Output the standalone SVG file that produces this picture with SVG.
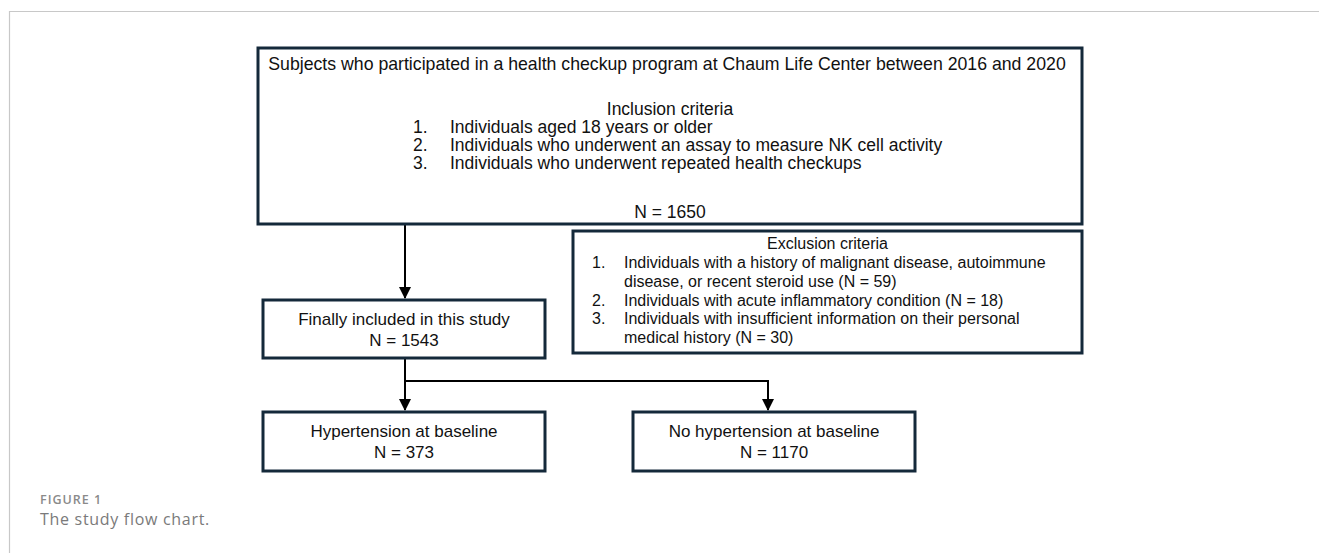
<svg xmlns="http://www.w3.org/2000/svg" width="1319" height="555" viewBox="0 0 1319 555">
<style>
.box{fill:#fff;stroke:#14293a;stroke-width:3}
.t{font-family:"Liberation Sans",Arial,sans-serif;fill:#111}
.c{text-anchor:middle}
.conn{stroke:#000;stroke-width:2;fill:none}
.frame{stroke:#c8c8c8;stroke-width:1.2;fill:none}
.cap1{font-family:"Open Sans","Noto Sans",sans-serif;font-weight:600;font-size:12.5px;fill:#8a8a8a;letter-spacing:1px}
.cap2{font-family:"Open Sans","Noto Sans",sans-serif;font-size:16px;fill:#7a7a7a;letter-spacing:0.7px}
</style>
<defs>
<marker id="ah" markerWidth="6" markerHeight="6" refX="5.5" refY="3" orient="auto" markerUnits="strokeWidth">
<path d="M0,0 L6,3 L0,6 Z" fill="#000"/>
</marker>
</defs>
<rect width="1319" height="555" fill="#fff"/>
<path class="frame" d="M9.5,553 V11.5 H1319"/>
<g id="connectors">
<path class="conn" d="M405,225 V298" marker-end="url(#ah)"/>
<path class="conn" d="M405,358 V410" marker-end="url(#ah)"/>
<path class="conn" d="M405,381 H768 V410" marker-end="url(#ah)"/>
</g>
<g id="top">
<rect class="box" x="258" y="48" width="824" height="176"/>
<text class="t c" x="667" y="70" font-size="17.7">Subjects who participated in a health checkup program at Chaum Life Center between 2016 and 2020</text>
<text class="t c" x="670" y="115" font-size="17.5">Inclusion criteria</text>
<g class="t" font-size="17.5">
<text x="413" y="133">1.</text><text x="450" y="133">Individuals aged 18 years or older</text>
<text x="413" y="151">2.</text><text x="450" y="151">Individuals who underwent an assay to measure NK cell activity</text>
<text x="413" y="169">3.</text><text x="450" y="169">Individuals who underwent repeated health checkups</text>
</g>
<text class="t c" x="670" y="218" font-size="17.5">N = 1650</text>
</g>
<g id="exclusion">
<rect class="box" x="573" y="231" width="509" height="122"/>
<text class="t c" x="827.5" y="249" font-size="16">Exclusion criteria</text>
<g class="t" font-size="16">
<text x="592" y="268">1.</text><text x="624" y="268">Individuals with a history of malignant disease, autoimmune</text>
<text x="624" y="286.5">disease, or recent steroid use (N = 59)</text>
<text x="592" y="305.5">2.</text><text x="624" y="305.5">Individuals with acute inflammatory condition (N = 18)</text>
<text x="592" y="324">3.</text><text x="624" y="324">Individuals with insufficient information on their personal</text>
<text x="624" y="343">medical history (N = 30)</text>
</g>
</g>
<g id="final">
<rect class="box" x="263" y="300" width="282" height="58"/>
<text class="t c" x="404" y="325" font-size="17">Finally included in this study</text>
<text class="t c" x="404" y="346" font-size="17">N = 1543</text>
</g>
<g id="hyp">
<rect class="box" x="263" y="412" width="282" height="59"/>
<text class="t c" x="404" y="437" font-size="17">Hypertension at baseline</text>
<text class="t c" x="404" y="458" font-size="17">N = 373</text>
</g>
<g id="nohyp">
<rect class="box" x="633" y="412" width="282" height="59"/>
<text class="t c" x="774" y="437" font-size="17">No hypertension at baseline</text>
<text class="t c" x="774" y="458" font-size="17">N = 1170</text>
</g>
<text class="cap1" x="40" y="504">FIGURE 1</text>
<text class="cap2" x="40" y="525">The study flow chart.</text>
</svg>
